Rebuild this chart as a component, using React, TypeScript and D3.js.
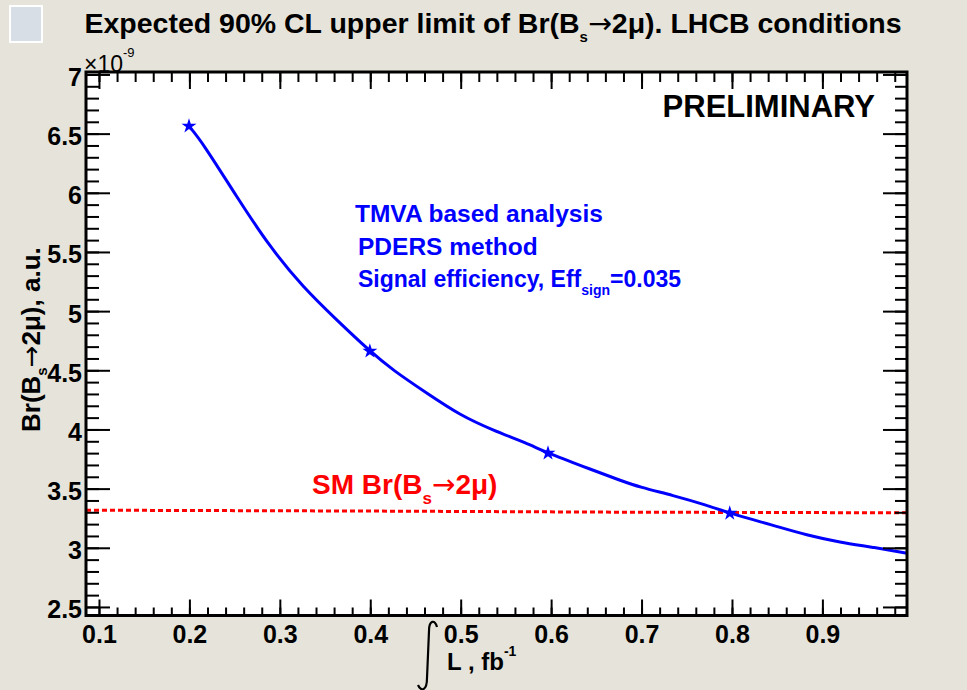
import React from "react";
import * as d3 from "d3";

// ---- data ----
const curveX = [0.199, 0.2144, 0.252, 0.2885, 0.325, 0.3626, 0.399, 0.4245, 0.462, 0.4986, 0.535, 0.5726, 0.5959, 0.6457, 0.6755, 0.6976, 0.734, 0.7717, 0.797, 0.8447, 0.8823, 0.9188, 0.9553, 0.993];
const curveY = [6.568, 6.424, 5.967, 5.545, 5.207, 4.928, 4.666, 4.505, 4.311, 4.125, 3.998, 3.888, 3.804, 3.66, 3.575, 3.516, 3.448, 3.364, 3.296, 3.195, 3.11, 3.051, 3.009, 2.958];
const markerX = [0.199, 0.399, 0.596, 0.797];
const markerY = [6.568, 4.666, 3.804, 3.296];
const smX = [0.0851, 0.385, 0.68, 0.993];
const smY = [3.322, 3.315, 3.305, 3.3];
const xTicks = [0.1, 0.2, 0.3, 0.4, 0.5, 0.6, 0.7, 0.8, 0.9];
const xTickLabels = ["0.1", "0.2", "0.3", "0.4", "0.5", "0.6", "0.7", "0.8", "0.9"];
const yTicks = [2.5, 3, 3.5, 4, 4.5, 5, 5.5, 6, 6.5, 7];
const yTickLabels = ["2.5", "3", "3.5", "4", "4.5", "5", "5.5", "6", "6.5", "7"];
const xDomain = [0.0851, 0.993];
const yDomain = [2.432, 7.025];

const W = 967, H = 690;
const FX0 = 86, FX1 = 907, FY0 = 72, FY1 = 615.5;
const FONT = "'Liberation Sans', Arial, Helvetica, sans-serif";
const ARROW_FONT = "'DejaVu Sans', sans-serif";

export default function App() {
  const x = d3.scaleLinear().domain(xDomain).range([FX0, FX1]);
  const y = d3.scaleLinear().domain(yDomain).range([FY1, FY0]);

  const xMinor = d3.range(0.08, 1.0001, 0.02).filter(v => v >= xDomain[0] && v <= xDomain[1]);
  const yMinor = d3.range(2.4, 7.05, 0.1).filter(v => v >= yDomain[0] && v <= yDomain[1]);

  const curvePts: [number, number][] = curveX.map((v, i) => [v, curveY[i]]);
  const line = d3.line<[number, number]>().x(d => x(d[0])).y(d => y(d[1])).curve(d3.curveBasis);
  const smPts: [number, number][] = smX.map((v, i) => [v, smY[i]]);
  const smLine = d3.line<[number, number]>().x(d => x(d[0])).y(d => y(d[1]));
  const star = d3.symbol().type(d3.symbolStar).size(70)();

  return (
    <svg width={W} height={H} style={{ position: "absolute", left: 0, top: 0, display: "block" }} fontFamily={FONT}>
      <rect x={0} y={0} width={W} height={H} fill="#e6e4da" />
      <rect x={10} y={6} width={32} height={36} fill="#d8dee6" stroke="#ffffff" strokeWidth={2} />
      <rect x={FX0} y={FY0} width={FX1 - FX0} height={FY1 - FY0} fill="#ffffff" />

      {/* title */}
      <text x={493} y={33} fontSize={28.5} fontWeight="bold" textAnchor="middle" fill="#000">
        Expected 90% CL upper limit of Br(B<tspan fontSize={15} dy={9}>s</tspan><tspan dy={-9} fontFamily={ARROW_FONT} fontWeight="normal">→</tspan><tspan>2μ). LHCB conditions</tspan>
      </text>

      {/* SM line */}
      <path d={smLine(smPts) || ""} fill="none" stroke="#ff0000" strokeWidth={3} strokeDasharray="5,3" />

      {/* curve */}
      <path d={line(curvePts) || ""} fill="none" stroke="#0000ff" strokeWidth={3} />
      {markerX.map((v, i) => (
        <path key={i} d={star || ""} transform={`translate(${x(v)},${y(markerY[i])})`} fill="#0000ff" />
      ))}

      {/* ticks */}
      {xTicks.map(v => (
        <g key={"xt" + v}>
          <line x1={x(v)} x2={x(v)} y1={FY1} y2={FY1 - 16} stroke="#000" strokeWidth={2} />
          <line x1={x(v)} x2={x(v)} y1={FY0} y2={FY0 + 17} stroke="#000" strokeWidth={2} />
        </g>
      ))}
      {xMinor.map((v, i) => (
        <g key={"xm" + i}>
          <line x1={x(v)} x2={x(v)} y1={FY1} y2={FY1 - 8} stroke="#000" strokeWidth={2} />
          <line x1={x(v)} x2={x(v)} y1={FY0} y2={FY0 + 10} stroke="#000" strokeWidth={2} />
        </g>
      ))}
      {yTicks.map(v => (
        <g key={"yt" + v}>
          <line x1={FX0} x2={FX0 + 24} y1={y(v)} y2={y(v)} stroke="#000" strokeWidth={2} />
          <line x1={FX1} x2={FX1 - 24} y1={y(v)} y2={y(v)} stroke="#000" strokeWidth={2} />
        </g>
      ))}
      {yMinor.map((v, i) => (
        <g key={"ym" + i}>
          <line x1={FX0} x2={FX0 + 13} y1={y(v)} y2={y(v)} stroke="#000" strokeWidth={2} />
          <line x1={FX1} x2={FX1 - 12} y1={y(v)} y2={y(v)} stroke="#000" strokeWidth={2} />
        </g>
      ))}
      <rect x={FX0} y={FY0} width={FX1 - FX0} height={FY1 - FY0} fill="none" stroke="#000" strokeWidth={3} />

      {/* tick labels */}
      {xTicks.map((v, i) => (
        <text key={"xl" + v} x={x(v)} y={643} fontSize={25} fontWeight="bold" textAnchor="middle">{xTickLabels[i]}</text>
      ))}
      {yTicks.map((v, i) => (
        <text key={"yl" + v} x={82} y={y(v) + 11} fontSize={25} fontWeight="bold" textAnchor="end">{yTickLabels[i]}</text>
      ))}

      {/* exponent */}
      <text x={84} y={72} fontSize={23}>×10<tspan fontSize={13} dy={-15}>-9</tspan></text>

      {/* y title */}
      <text transform="translate(40,432) rotate(-90)" fontSize={26} fontWeight="bold">
        Br(B<tspan fontSize={15} dy={7}>s</tspan><tspan dy={-7} fontFamily={ARROW_FONT} fontWeight="normal">→</tspan><tspan>2μ), a.u.</tspan>
      </text>

      {/* x title */}
      <path d="M 437 627 C 435 619, 429 620, 429 631 L 427 678 C 427 691, 421 692, 418 685" fill="none" stroke="#000" strokeWidth={2.2} />
      <text x={447} y={670} fontSize={24} fontWeight="bold">L , fb<tspan fontSize={14} dy={-14}>-1</tspan></text>

      {/* annotations */}
      <text x={875} y={117} fontSize={31} fontWeight="bold" textAnchor="end">PRELIMINARY</text>
      <text x={355} y={222} fontSize={24.5} fontWeight="bold" fill="#0000ff">TMVA based analysis</text>
      <text x={358} y={255} fontSize={24.5} fontWeight="bold" fill="#0000ff">PDERS method</text>
      <text x={358} y={287} fontSize={23} fontWeight="bold" fill="#0000ff">
        Signal efficiency, Eff<tspan fontSize={14} dy={8}>sign</tspan><tspan dy={-8}>=0.035</tspan>
      </text>
      <text x={312} y={494} fontSize={28} fontWeight="bold" fill="#ff0000">
        SM Br(B<tspan fontSize={17} dy={10}>s</tspan><tspan dy={-10} fontFamily={ARROW_FONT} fontWeight="normal">→</tspan><tspan>2μ)</tspan>
      </text>
    </svg>
  );
}
